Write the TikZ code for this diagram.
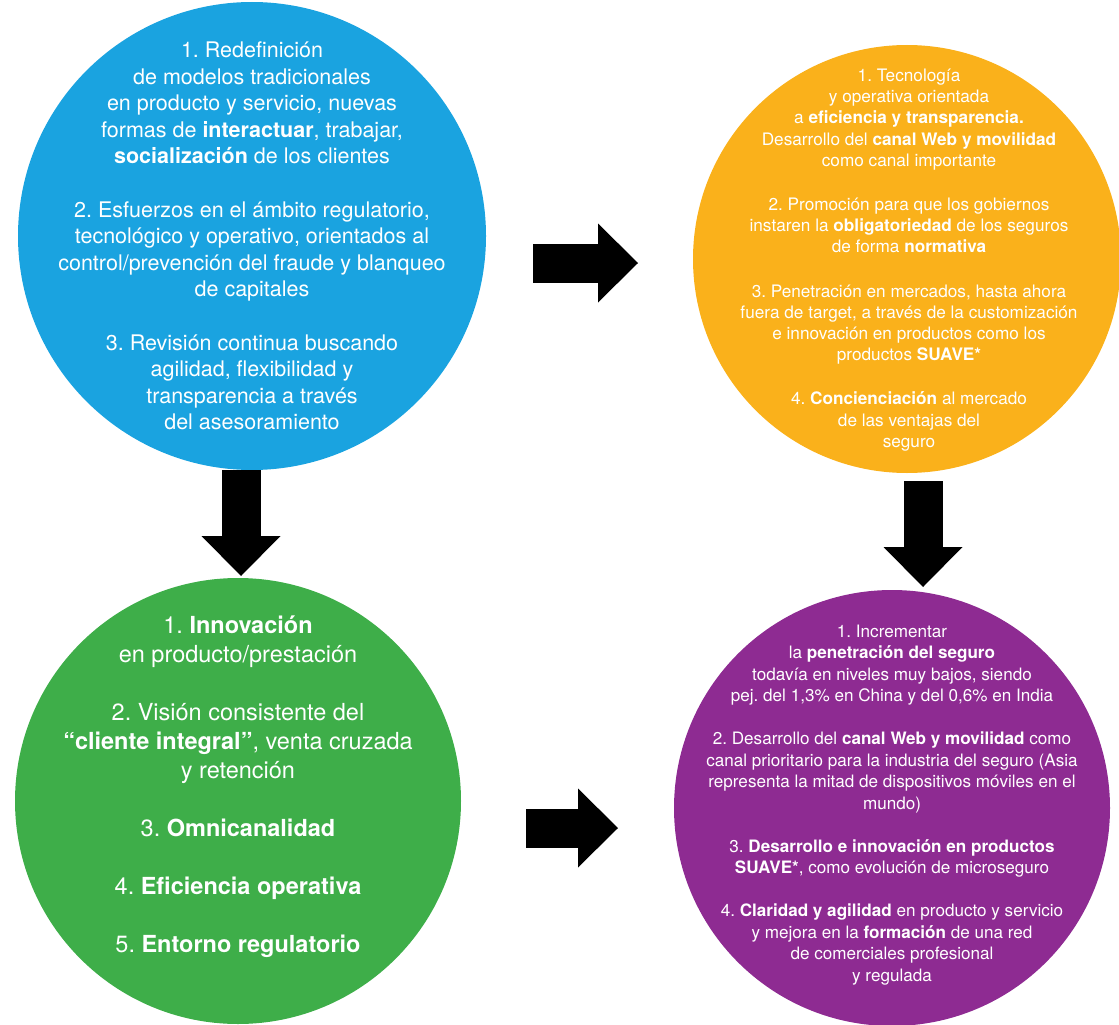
\documentclass[tikz,border=0pt]{standalone}
\usepackage{fontspec}
\setmainfont{TeX Gyre Heros}
\usetikzlibrary{arrows.meta}
\frenchspacing

\definecolor{blueDisc}{RGB}{26,163,224}
\definecolor{orangeDisc}{RGB}{250,177,27}
\definecolor{greenDisc}{RGB}{62,174,73}
\definecolor{purpleDisc}{RGB}{142,43,146}

\tikzset{
	disc/.style={circle, draw=none, inner sep=0pt, minimum size=#1},
	discText/.style={text=white, align=center, inner sep=0pt},
	bigArrow/.style={draw=black, line width=39pt,
		-{Triangle[length=40pt, width=79pt, line width=0pt]}}
}

\begin{document}
\begin{tikzpicture}[x=1pt, y=-1pt]

	\useasboundingbox (0,0) rectangle (1119,1025);

	% The four discs
	\node[disc=468pt, fill=blueDisc]   (blue)   at (252,236) {};
	\node[disc=428pt, fill=orangeDisc] (orange) at (907,259) {};
	\node[disc=446pt, fill=greenDisc]  (green)  at (238,801) {};
	\node[disc=436pt, fill=purpleDisc] (purple) at (892,808) {};

	% Texts inside the discs
	\node[discText, font=\fontsize{21.5}{26.6}\selectfont] (blueText) at (252,236) {
		1. Redefinición\\
		de modelos tradicionales\\
		en producto y servicio, nuevas\\
		formas de \textbf{interactuar}, trabajar,\\
		\textbf{socialización} de los clientes\\[26.6pt]
		2. Esfuerzos en el ámbito regulatorio,\\
		tecnológico y operativo, orientados al\\
		control/prevención del fraude y blanqueo\\
		de capitales\\[26.6pt]
		3. Revisión continua buscando\\
		agilidad, flexibilidad y\\
		transparencia a través\\
		del asesoramiento};

	\node[discText, font=\fontsize{17.2}{21.2}\selectfont] (orangeText) at (909,260) {
		1. Tecnología\\
		y operativa orientada\\
		a \textbf{eficiencia y transparencia.}\\
		Desarrollo del \textbf{canal Web y movilidad}\\
		como canal importante\\[23pt]
		2. Promoción para que los gobiernos\\
		instaren la \textbf{obligatoriedad} de los seguros\\
		de forma \textbf{normativa}\\[23pt]
		3. Penetración en mercados, hasta ahora\\
		fuera de target, a través de la customización\\
		e innovación en productos como los\\
		productos \textbf{SUAVE*}\\[23pt]
		4. \textbf{Concienciación} al mercado\\
		de las ventajas del\\
		seguro};

	\node[discText, font=\fontsize{23.5}{29}\selectfont] (greenText) at (238,787) {
		1. \textbf{Innovación}\\
		en producto/prestación\\[29pt]
		2. Visión consistente del\\
		\textbf{“cliente integral”}, venta cruzada\\
		y retención\\[29pt]
		3. \textbf{Omnicanalidad}\\[29pt]
		4. \textbf{Eficiencia operativa}\\[29pt]
		5. \textbf{Entorno regulatorio}};

	\node[discText, font=\fontsize{17.1}{21.5}\selectfont] (purpleText) at (892,805) {
		1. Incrementar\\
		la \textbf{penetración del seguro}\\
		todavía en niveles muy bajos, siendo\\
		pej. del 1,3\% en China y del 0,6\% en India\\[21.5pt]
		2. Desarrollo del \textbf{canal Web y movilidad} como\\
		canal prioritario para la industria del seguro (Asia\\
		representa la mitad de dispositivos móviles en el\\
		mundo)\\[21.5pt]
		3. \textbf{Desarrollo e innovación en productos}\\
		\textbf{SUAVE*}, como evolución de microseguro\\[21.5pt]
		4. \textbf{Claridad y agilidad} en producto y servicio\\
		y mejora en la \textbf{formación} de una red\\
		de comerciales profesional\\
		y regulada};

	% Arrow ends
	\coordinate (topFrom)   at (533,263);
	\coordinate (topTo)     at (638,263);
	\coordinate (leftFrom)  at (241,470);
	\coordinate (leftTo)    at (241,576);
	\coordinate (rightFrom) at (923,481);
	\coordinate (rightTo)   at (923,587);
	\coordinate (botFrom)   at (526,828);
	\coordinate (botTo)     at (618,828);

	\draw[bigArrow] (topFrom) -- (topTo);
	\draw[bigArrow] (leftFrom) -- (leftTo);
	\draw[bigArrow] (rightFrom) -- (rightTo);
	\draw[bigArrow] (botFrom) -- (botTo);

\end{tikzpicture}
\end{document}
